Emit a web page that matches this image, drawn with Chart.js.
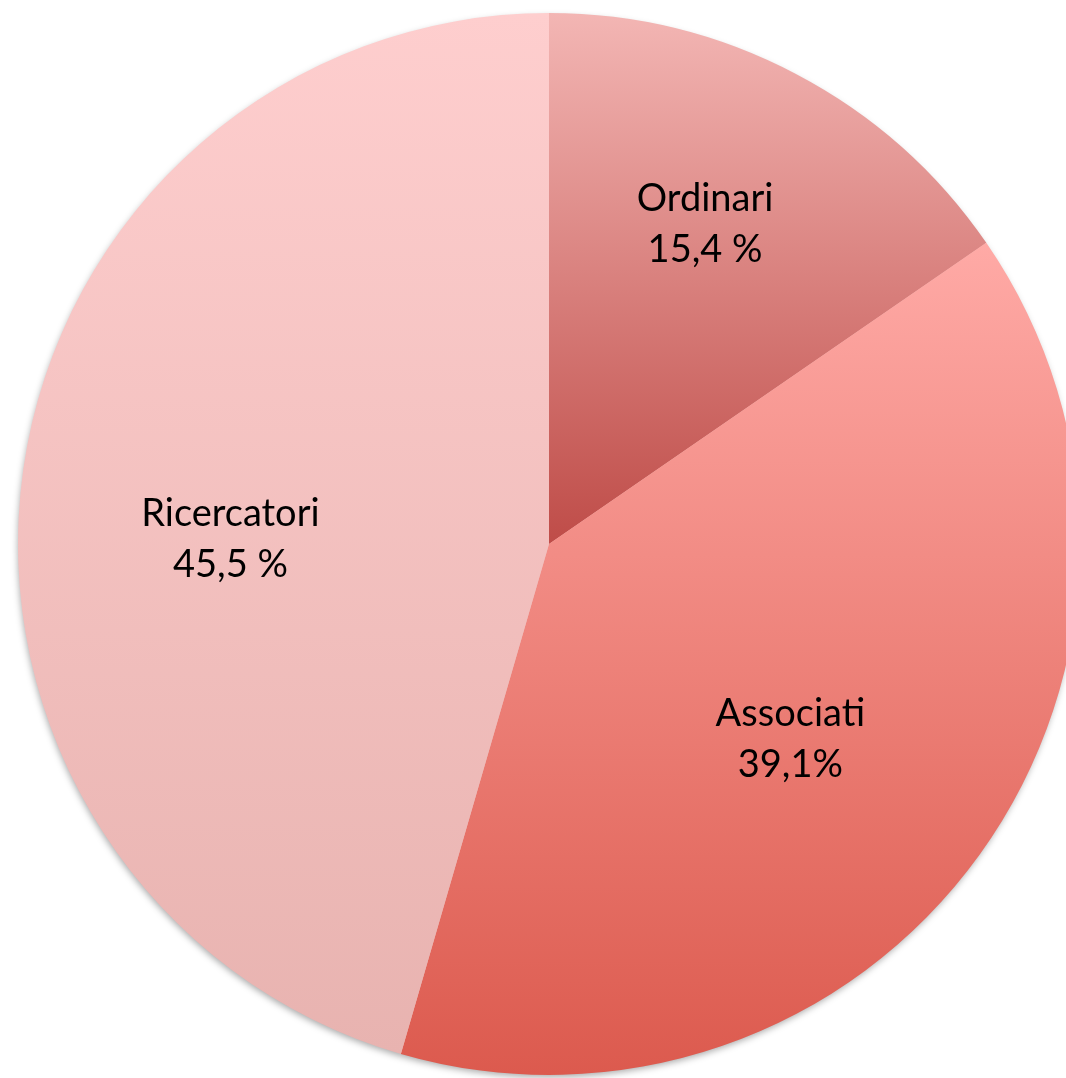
<!DOCTYPE html>
<html>
<head>
<meta charset="utf-8">
<script src="https://cdn.jsdelivr.net/npm/chart.js@4.4.1/dist/chart.umd.min.js"></script>
<style>
  html, body { margin: 0; padding: 0; background: #fff; overflow: hidden; }
  #box { position: absolute; left: 0; top: 0; width: 1100px; height: 1078px; }
</style>
</head>
<body>
<div id="box"><canvas id="miGrafica"></canvas></div>
<script>
const categorie = ['Ordinari', 'Associati', 'Ricercatori'];
const percentuali = [15.4, 39.1, 45.5];
const etichette_valori = ['15,4 %', '39,1%', '45,5 %'];
// colore in alto / colore in basso per ogni fetta
const colori_alto = ['#f3b6b4', '#ffaaa6', '#fecece'];
const colori_basso = ['#bf4c48', '#dc5a4e', '#e8b3b0'];

const canva_grafica = document.getElementById('miGrafica').getContext('2d');

// geometria della torta calcolata dall'area del grafico
const geometria = (chart) => {
    const a = chart.chartArea;
    const cx = (a.left + a.right) / 2, cy = (a.top + a.bottom) / 2;
    const r = Math.min(a.right - a.left, a.bottom - a.top) / 2;
    const tot = percentuali.reduce((s, v) => s + v, 0);
    let ang = -Math.PI / 2;
    const fette = percentuali.map(v => {
        const s = ang;
        ang += v / tot * Math.PI * 2;
        return {start: s, end: ang};
    });
    return {cx, cy, r, fette};
};

const sfumature = {
    id: 'sfumature',
    afterLayout(chart) {
        const {cx, cy, r, fette} = geometria(chart);
        chart.data.datasets[0].backgroundColor = fette.map((f, i) => {
            let ys = [cy];
            for (let k = 0; k <= 90; k++) {
                const a = f.start + (f.end - f.start) * k / 90;
                ys.push(cy + r * Math.sin(a));
            }
            const g = chart.ctx.createLinearGradient(0, Math.min(...ys), 0, Math.max(...ys));
            g.addColorStop(0, colori_alto[i]);
            g.addColorStop(1, colori_basso[i]);
            return g;
        });
    }
};

const ombra = {
    id: 'ombra',
    beforeDatasetsDraw(chart) {
        const {cx, cy, r} = geometria(chart);
        const ctx = chart.ctx;
        ctx.save();
        ctx.shadowColor = 'rgba(0,0,0,0.35)';
        ctx.shadowBlur = 7;
        ctx.shadowOffsetX = -1;
        ctx.shadowOffsetY = 3;
        ctx.fillStyle = '#e8b4b0';
        ctx.beginPath();
        ctx.arc(cx, cy, r - 1, 0, Math.PI * 2);
        ctx.fill();
        ctx.restore();
    }
};

const etichette = {
    id: 'etichette',
    afterDatasetsDraw(chart) {
        const ctx = chart.ctx;
        const frazioni = [0.67, 0.585, 0.6];
        const spostamenti = [-1.7, 3.2, -7.4];
        ctx.save();
        ctx.font = '38px Lato, "Open Sans", sans-serif';
        ctx.fillStyle = '#000';
        ctx.textAlign = 'center';
        ctx.textBaseline = 'middle';
        chart.getDatasetMeta(0).data.forEach((arc, i) => {
            const {x, y, outerRadius, startAngle, endAngle} = arc.getProps(['x', 'y', 'outerRadius', 'startAngle', 'endAngle'], true);
            const mid = (startAngle + endAngle) / 2 + spostamenti[i] * Math.PI / 180;
            const r = outerRadius * frazioni[i];
            const px = x + r * Math.cos(mid);
            const py = y + r * Math.sin(mid);
            ctx.fillText(categorie[i], px, py - 26);
            ctx.fillText(etichette_valori[i], px, py + 25);
        });
        ctx.restore();
    }
};

const grafica_char = new Chart(canva_grafica, {
    type: 'pie',
    data: {
        labels: categorie,
        datasets: [{
            data: percentuali,
            backgroundColor: colori_alto,
            borderWidth: 0
        }]
    },
    options: {
        responsive: true,
        maintainAspectRatio: false,
        animation: false,
        layout: { padding: { left: 18, top: 13, right: 20, bottom: 3 } },
        plugins: {
            legend: { display: false },
            tooltip: { enabled: false }
        }
    },
    plugins: [sfumature, ombra, etichette]
});
</script>
</body>
</html>
